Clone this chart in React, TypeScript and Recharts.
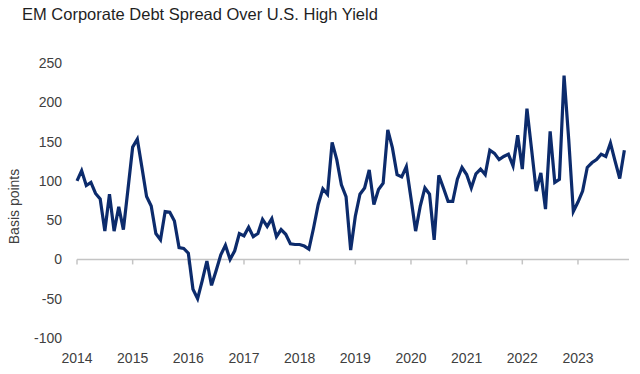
import { LineChart, Line, XAxis, YAxis, ReferenceLine } from 'recharts'

// monthly spread, Jan 2014 onwards (basis points)
const spread: number[] = [
  100, 113, 94, 98, 84, 77, 36, 83, 36, 67, 38, 90,
  143, 153, 117, 80, 68, 33, 25, 61, 60, 49, 15, 14,
  8, -38, -50, -27, -2, -33, -14, 6, 18, 0, 11, 33,
  30, 41, 29, 33, 51, 42, 52, 29, 38, 32, 20, 19,
  19, 17, 13, 40, 70, 90, 83, 149, 127, 95, 80, 12,
  55, 83, 91, 114, 70, 89, 97, 165, 142, 108, 105, 118,
  78, 36, 68, 91, 83, 25, 107, 91, 74, 74, 102, 117,
  108, 91, 109, 115, 108, 139, 135, 127, 131, 134, 119, 158,
  115, 192, 140, 87, 110, 64, 163, 98, 102, 234, 153, 61,
  73, 87, 117, 123, 127, 134, 131, 148, 125, 103, 139,
]

const years = ['2014', '2015', '2016', '2017', '2018', '2019', '2020', '2021', '2022', '2023']
const yTicks = [-100, -50, 0, 50, 100, 150, 200, 250]

const yearTicks = years.map((_, i) => i * 12)
const data = spread.map((v, i) => ({ m: i, bp: v }))
const X_MAX = 119

const FONT = '"Liberation Sans", Arial, sans-serif'
const AXIS_GREY = '#c4c4c4'

// zero line acting as the category axis, with small year tick marks hanging below it
function ZeroAxis(props: { x1?: number; x2?: number; y1?: number; y2?: number }) {
  const { x1 = 0, x2 = 0, y1 = 0 } = props
  return (
    <g>
      <line x1={x1} x2={x2} y1={y1} y2={y1} stroke={AXIS_GREY} strokeWidth={1.5} />
      {yearTicks.map((t) => {
        const x = x1 + ((x2 - x1) * t) / X_MAX
        return <line key={t} x1={x} x2={x} y1={y1} y2={y1 + 5} stroke={AXIS_GREY} strokeWidth={1.5} />
      })}
    </g>
  )
}

export default function App() {
  return (
    <div style={{ position: 'absolute', left: 0, top: 0, width: 640, height: 374, background: '#fff' }}>
      <div style={{
        position: 'absolute', left: 22, top: 5, fontFamily: FONT, fontSize: 16.5,
        color: '#1f1f1f',
      }}>
        EM Corporate Debt Spread Over U.S. High Yield
      </div>
      <LineChart width={640} height={374} data={data} margin={{ top: 63, right: 11, left: 0, bottom: 0 }}>
        <XAxis
          dataKey="m"
          type="number"
          domain={[0, X_MAX]}
          ticks={yearTicks}
          tickFormatter={(v: number) => years[v / 12] ?? ''}
          axisLine={false}
          tickLine={false}
          tickMargin={9}
          tick={{ fill: '#404040', fontSize: 14, fontFamily: FONT }}
          height={36}
        />
        <YAxis
          domain={[-100, 250]}
          ticks={yTicks}
          axisLine={false}
          tickLine={false}
          tickMargin={9}
          width={77}
          tick={{ fill: '#404040', fontSize: 14, fontFamily: FONT }}
          label={{
            value: 'Basis points', angle: -90, position: 'insideLeft', offset: 14, dy: 6,
            style: { fill: '#404040', fontSize: 14, fontFamily: FONT, textAnchor: 'middle' },
          }}
        />
        <ReferenceLine y={0} shape={<ZeroAxis />} />
        <Line
          type="linear"
          dataKey="bp"
          stroke="#0c2b6c"
          strokeWidth={3.2}
          dot={false}
          isAnimationActive={false}
        />
      </LineChart>
    </div>
  )
}
